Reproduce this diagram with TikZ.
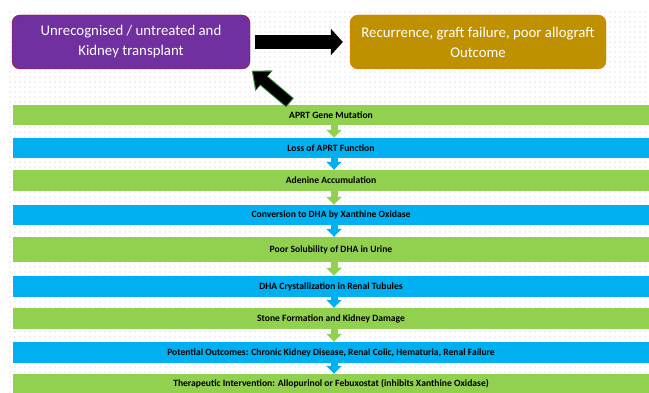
\documentclass[tikz,border=0pt]{standalone}
\usepackage{fontspec}
\setmainfont{Carlito}
\usetikzlibrary{arrows.meta,patterns.meta}
\definecolor{bandgreen}{RGB}{146,208,80}
\definecolor{bandblue}{RGB}{0,176,240}
\definecolor{boxpurple}{RGB}{112,48,160}
\definecolor{boxgold}{RGB}{191,144,0}
\definecolor{dotgray}{RGB}{200,200,208}
\definecolor{glowgreen}{RGB}{60,150,60}

\begin{document}
\begin{tikzpicture}[x=1pt,y=1pt,
    topbox/.style={rounded corners=8pt, minimum height=54pt, text=white, align=center, font=\fontsize{14.8}{20}\selectfont},
    band/.style={minimum width=636pt, inner sep=0pt, font=\bfseries\fontsize{9.6}{11}\selectfont},
    bigarrow/.style={line width=14pt, -{Triangle[length=12pt,width=26pt]}},
    flowarrow/.style={line width=7pt, -{Triangle[length=8pt,width=15pt]}}]
    \useasboundingbox (0,0) rectangle (649,392);

    % dotted background
    \fill[pattern={Dots[distance=5pt,radius=0.6pt]}, pattern color=dotgray] (9,0) rectangle (649,382);

    % top boxes
    \node[topbox, fill=boxpurple, draw=red!75!black, minimum width=238pt] (untreated) at (131,350) {Unrecognised / untreated and\\Kidney transplant};
    \node[topbox, fill=boxgold, draw=orange!85!red, minimum width=256pt] (outcome) at (478,350) {Recurrence, graft failure, poor allograft\\Outcome};

    % pathway bands
    \foreach \name/\y/\h/\col/\txt in {
        mutation/277/20/bandgreen/{APRT Gene Mutation},
        lossfn/244/20/bandblue/{Loss of APRT Function},
        adenine/211.5/21/bandgreen/{Adenine Accumulation},
        conversion/177/20/bandblue/{Conversion to DHA by Xanthine Oxidase},
        solubility/142.5/25/bandgreen/{Poor Solubility of DHA in Urine},
        crystal/105.5/21/bandblue/{DHA Crystallization in Renal Tubules},
        stone/73.5/21/bandgreen/{Stone Formation and Kidney Damage},
        potential/39.5/21/bandblue/{Potential Outcomes: Chronic Kidney Disease, Renal Colic, Hematuria, Renal Failure},
        therapy/8/20/bandgreen/{Therapeutic Intervention: Allopurinol or Febuxostat (inhibits Xanthine Oxidase)}}
        \node[band, fill=\col, minimum height=\h pt] (\name) at (331,\y) {\txt};

    % small arrows between bands
    \foreach \a/\b/\col in {mutation/lossfn/bandgreen, lossfn/adenine/bandblue,
        adenine/conversion/bandgreen, conversion/solubility/bandblue,
        solubility/crystal/bandgreen, crystal/stone/bandblue,
        stone/potential/bandgreen, potential/therapy/bandblue}
        \draw[flowarrow, \col] ([xshift=3pt]\a.south) -- ([xshift=3pt]\b.north);

    % block arrows at the top
    \draw[bigarrow, shorten <=5pt, shorten >=7pt] (untreated.east) -- (outcome.west);
    \coordinate (feedback) at ([xshift=-41pt,yshift=2pt]mutation.north);
    \draw[glowgreen, line width=12pt, -{Triangle[length=16pt,width=26pt]}, shorten >=2pt] (feedback) -- (untreated.south east);
    \draw[black, line width=10pt, -{Triangle[length=14pt,width=22pt]}, shorten <=1pt, shorten >=3.5pt] (feedback) -- (untreated.south east);
\end{tikzpicture}
\end{document}
